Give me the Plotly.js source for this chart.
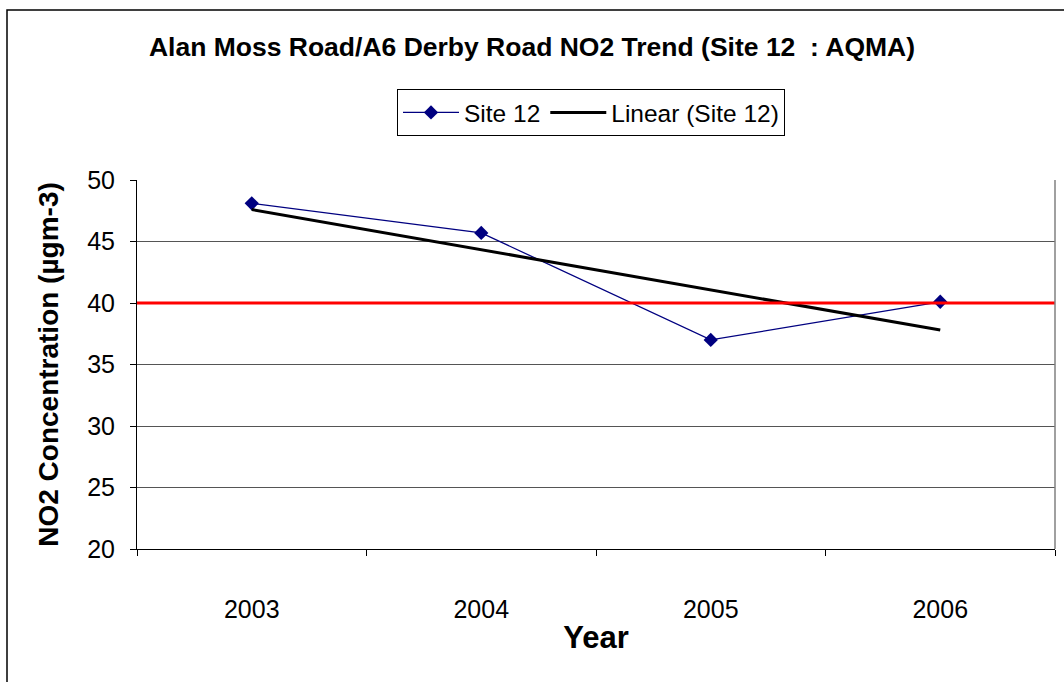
<!DOCTYPE html>
<html>
<head>
<meta charset="utf-8">
<script src="https://cdn.plot.ly/plotly-3.0.1.min.js"></script>
<style>html,body{margin:0;padding:0;background:#fff;}#chart{width:1064px;height:682px;}</style>
</head>
<body>
<div id="chart"></div>
<script>
const years = ['2003', '2004', '2005', '2006'];
const site12 = [48.1, 45.7, 37.0, 40.1];
const trendYears = ['2003', '2006'];
const trendValues = [47.6, 37.8];
const limitValue = 40;
const yTicks = [20, 25, 30, 35, 40, 45, 50];

const FONT = 'Liberation Sans, Arial, sans-serif';

const traces = [
  {
    x: years, y: site12, name: 'Site 12', type: 'scatter', mode: 'lines+markers',
    line: {color: '#000080', width: 1.3},
    marker: {symbol: 'diamond', size: 11, color: '#000080'}
  },
  {
    x: trendYears, y: trendValues, name: 'Linear (Site 12)', type: 'scatter', mode: 'lines',
    line: {color: '#000000', width: 3}
  }
];

const layout = {
  width: 1064, height: 682,
  margin: {l: 137, r: 9, t: 180, b: 133},
  paper_bgcolor: '#ffffff', plot_bgcolor: '#ffffff',
  font: {family: FONT, color: '#000'},
  title: {
    text: '<b>Alan Moss Road/A6 Derby Road NO2 Trend (Site 12  : AQMA)</b>',
    font: {family: FONT, size: 26.5, color: '#000'},
    x: 0.5, xref: 'container', xanchor: 'center', y: 1 - 47/682, yref: 'container', yanchor: 'middle'
  },
  showlegend: true,
  legend: {
    orientation: 'h', x: (397 - 137) / 918, y: (549 - 89) / 369, xanchor: 'left', yanchor: 'top',
    bordercolor: '#000', borderwidth: 1, bgcolor: '#fff',
    font: {family: FONT, size: 24.5, color: '#000'},
    itemwidth: 56, tracegroupgap: 0
  },
  xaxis: {
    type: 'category', categoryorder: 'array', categoryarray: years,
    range: [-0.5, 3.5], tickson: 'boundaries', ticks: 'outside', ticklen: 6, tickcolor: '#000',
    showline: true, linecolor: '#000', linewidth: 1, mirror: false,
    showgrid: false, zeroline: false, ticklabelstandoff: 38,
    tickfont: {family: FONT, size: 25, color: '#000'},
    title: {text: '<b>Year</b>', font: {family: FONT, size: 31, color: '#000'}, standoff: 4}
  },
  yaxis: {
    range: [20, 50], tickvals: yTicks, ticktext: yTicks.map(String),
    ticks: 'outside', ticklen: 6, tickcolor: '#000',
    showline: true, linecolor: '#000', linewidth: 1, ticklabelstandoff: 10,
    showgrid: true, gridcolor: '#555', gridwidth: 1, zeroline: false,
    tickfont: {family: FONT, size: 25, color: '#000'},
    title: {text: '<b>NO2 Concentration (µgm-3)</b>', font: {family: FONT, size: 28, color: '#000'}, standoff: 20}
  },
  shapes: [
    {type: 'line', xref: 'paper', yref: 'y', x0: 0, x1: 1, y0: limitValue, y1: limitValue,
     line: {color: '#ff0000', width: 3}, layer: 'above'},
    {type: 'line', xref: 'paper', yref: 'paper', x0: 1, x1: 1, y0: 0, y1: 1,
     line: {color: '#808080', width: 1.5}},
    {type: 'rect', xref: 'paper', yref: 'paper', x0: (7 - 137) / 918, x1: 1.05, y0: -0.6, y1: (549 - 10) / 369,
     line: {color: '#000', width: 1.5}, fillcolor: 'rgba(0,0,0,0)'}
  ]
};

Plotly.newPlot('chart', traces, layout, {displayModeBar: false, staticPlot: true});
</script>
</body>
</html>
